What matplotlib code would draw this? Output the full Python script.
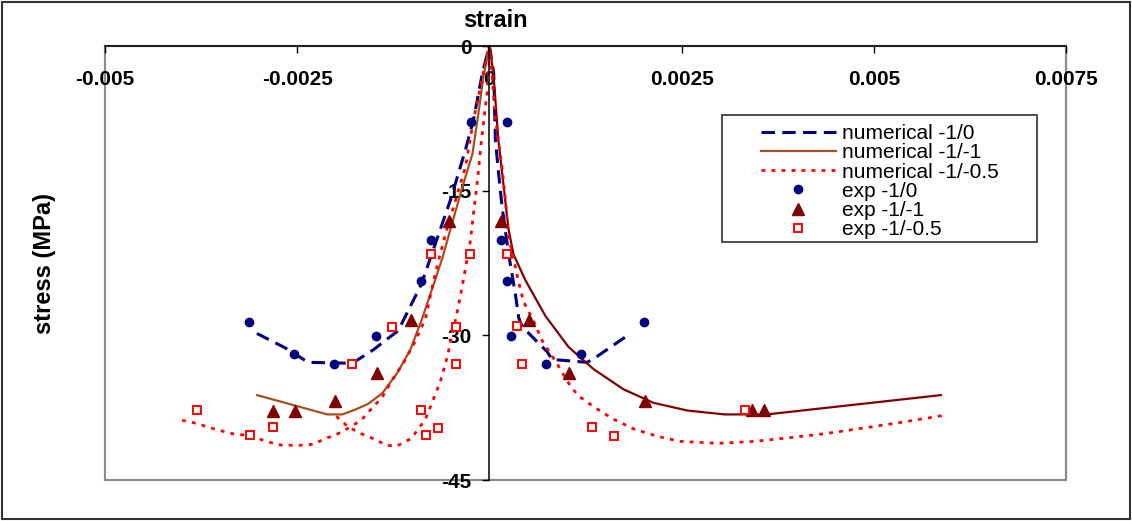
import matplotlib
matplotlib.use("Agg")
import matplotlib.pyplot as plt
from matplotlib.patches import Rectangle
from matplotlib.ticker import FixedLocator, FuncFormatter

plt.rcParams['font.family'] = ['Liberation Sans', 'DejaVu Sans']
plt.rcParams['axes.unicode_minus'] = False

# --- numerical -1/0 (blue dashed), left and right branches
num10_left_x = [-0.003025, -0.002656, -0.002357, -0.001784, -0.00151, -0.001185,
                -0.000885, -0.000508, -0.000313, -0.000208, -0.000091, 0.0]
num10_left_y = [-29.8, -31.3, -32.8, -32.9, -31.5, -29.5, -24.7, -16.0, -10.8, -7.7, -2.8, 0.0]
num10_right_x = [0.0, 0.000056, 0.000078, 0.000121, 0.000165, 0.000251, 0.000339,
                 0.000382, 0.000426, 0.000751, 0.000816, 0.001272, 0.00138, 0.001836]
num10_right_y = [0.0, -2.8, -9.8, -13.3, -16.7, -21.6, -25.8, -28.2, -29.1, -31.7, -32.5,
                 -32.8, -32.3, -29.8]

# --- numerical -1/-1 (brown left, maroon right)
num11_left_x = [-0.003021, -0.002109, -0.001914, -0.001745, -0.001576, -0.001393, -0.001198,
                -0.001029, -0.000872, -0.000742, -0.000612, -0.000482, -0.000365, -0.000221,
                -0.000143, -0.000078, 0.0]
num11_left_y = [-36.2, -38.2, -38.2, -37.7, -37.1, -36.0, -33.9, -31.5, -28.2, -25.1, -22.0,
                -18.3, -15.0, -11.2, -7.0, -3.2, 0.0]
num11_right_x = [0.0, 0.000052, 0.000117, 0.000182, 0.000247, 0.000313, 0.000469, 0.000729,
                 0.001029, 0.001354, 0.001745, 0.002135, 0.002578, 0.00306, 0.003607, 0.005872]
num11_right_y = [0.0, -2.8, -9.8, -14.3, -18.9, -21.6, -24.3, -28.0, -31.2, -33.5, -35.6,
                 -37.0, -37.8, -38.2, -38.2, -36.2]

# --- numerical -1/-0.5 (red dotted): outer left, inner left, right
num105_left_x = [-0.003997, -0.003828, -0.003581, -0.003346, -0.003112, -0.002904, -0.002695,
                 -0.002461, -0.002292, -0.002135, -0.001992, -0.00181, -0.001667, -0.00151,
                 -0.001393, -0.001276, -0.001107, -0.000977, -0.000833, -0.000755, -0.000664,
                 -0.00056, -0.000404, -0.000313, -0.000208, -0.000117, -0.000026, 0.0]
num105_left_y = [-38.8, -39.1, -39.7, -40.2, -40.4, -41.0, -41.4, -41.4, -41.3, -40.7, -40.3,
                 -39.5, -38.8, -37.4, -36.4, -34.8, -32.7, -30.8, -28.3, -25.4, -22.3, -19.2,
                 -15.0, -12.6, -7.7, -4.3, -0.7, 0.0]
num105_inner_x = [-0.001992, -0.001836, -0.001667, -0.001484, -0.001341, -0.001211, -0.001016,
                  -0.000924, -0.000833, -0.000742, -0.000638, -0.000547, -0.000482, -0.00043,
                  -0.000365, -0.000299, -0.000247, -0.000208, -0.000156, -0.000117, -0.000078,
                  -0.000026, -0.000004, 0.0]
num105_inner_y = [-38.4, -39.5, -40.2, -40.8, -41.4, -41.5, -40.7, -39.7, -38.7, -36.9, -34.8,
                  -32.2, -29.8, -28.0, -25.4, -22.5, -20.2, -17.4, -14.0, -10.8, -8.0, -4.6,
                  -1.8, 0.0]
num105_right_x = [0.0, 0.000039, 0.000078, 0.000117, 0.000169, 0.000208, 0.000247, 0.000313,
                  0.000378, 0.000443, 0.000573, 0.00069, 0.000885, 0.001016, 0.001146, 0.001354,
                  0.001615, 0.001875, 0.002201, 0.002487, 0.002969, 0.003438, 0.003919,
                  0.004362, 0.004961, 0.005456, 0.005911]
num105_right_y = [0.0, -3.5, -7.4, -9.8, -12.9, -16.0, -19.7, -22.0, -24.4, -26.5, -28.5, -30.6,
                  -33.0, -34.8, -36.2, -37.4, -38.7, -39.7, -40.5, -41.0, -41.2, -41.0, -40.6,
                  -40.2, -39.5, -38.9, -38.3]

# --- experimental points
exp10_x = [-0.00313, -0.00254, -0.00202, -0.00148, -0.00089, -0.00076, -0.00024,
           0.00023, 0.00015, 0.00023, 0.00028, 0.00074, 0.00119, 0.00201]
exp10_y = [-28.6, -31.9, -33.0, -30.1, -24.4, -20.1, -7.9,
           -7.9, -20.1, -24.4, -30.1, -33.0, -31.9, -28.6]
exp11_x = [-0.00281, -0.00253, -0.00201, -0.00146, -0.00102, -0.00052,
           0.00015, 0.00052, 0.00104, 0.00202, 0.00342, 0.00357]
exp11_y = [-37.8, -37.8, -36.8, -33.9, -28.4, -18.1,
           -18.1, -28.4, -33.9, -36.8, -37.75, -37.75]
exp105_x = [-0.0038, -0.00311, -0.00282, -0.00179, -0.00127, -0.00076, -0.00025, -0.00044,
            -0.00044, -0.00089, -0.00067, -0.00083,
            0.00023, 0.00036, 0.00043, 0.00134, 0.00162, 0.00333]
exp105_y = [-37.7, -40.3, -39.5, -33.0, -29.1, -21.6, -21.6, -29.1, -33.0, -37.7, -39.6, -40.3,
            -21.6, -29.0, -33.0, -39.55, -40.4, -37.75]

x_ticks = [-0.005, -0.0025, 0.0, 0.0025, 0.005, 0.0075]
y_ticks = [-45, -30, -15, 0]

navy = '#000080'
brown = '#A5501E'
maroon = '#800000'
red = '#FF0000'

fig = plt.figure(figsize=(11.32, 5.21), dpi=100)
ax = fig.add_axes([0.09276, 0.07869, 0.84894, 0.83301])
ax.set_xlim(-0.005, 0.0075)
ax.set_ylim(-45, 0)

blue_dash = (0, (4.4, 2.4))
red_dot = (0, (1.4, 2.2))

l1, = ax.plot(num10_left_x, num10_left_y, color=navy, lw=2.2, ls=blue_dash,
              label='numerical -1/0')
ax.plot(num10_right_x, num10_right_y, color=navy, lw=2.2, ls=blue_dash)
l2, = ax.plot(num11_left_x, num11_left_y, color=brown, lw=1.6, label='numerical -1/-1')
ax.plot(num11_right_x, num11_right_y, color=maroon, lw=1.6)
l3, = ax.plot(num105_left_x, num105_left_y, color=red, lw=2.0, ls=red_dot,
              label='numerical -1/-0.5')
ax.plot(num105_inner_x, num105_inner_y, color=red, lw=2.0, ls=red_dot)
ax.plot(num105_right_x, num105_right_y, color=red, lw=2.0, ls=red_dot)

m1, = ax.plot(exp10_x, exp10_y, ls='none', marker='o', ms=6, color=navy, label='exp -1/0')
m2, = ax.plot(exp11_x, exp11_y, ls='none', marker='^', ms=8, color=maroon, label='exp -1/-1')
m3, = ax.plot(exp105_x, exp105_y, ls='none', marker='s', ms=5.5, mfc='white', mec=red,
              mew=1.4, label='exp -1/-0.5')

# axes crossing at the origin, gray plot frame
for side in ['top', 'right']:
    ax.spines[side].set_visible(False)
ax.spines['left'].set_position(('data', 0))
ax.spines['bottom'].set_position(('data', 0))
for side in ['left', 'bottom']:
    ax.spines[side].set_color('black')
    ax.spines[side].set_linewidth(1.1)
ax.add_patch(Rectangle((0, 0), 1, 1, transform=ax.transAxes, fill=False,
                       edgecolor='#8c8c8c', lw=1.6, zorder=0.5, clip_on=False))

fmt = FuncFormatter(lambda v, p: '%g' % v)
ax.xaxis.set_major_locator(FixedLocator(x_ticks))
ax.yaxis.set_major_locator(FixedLocator(y_ticks))
ax.xaxis.set_major_formatter(fmt)
ax.yaxis.set_major_formatter(fmt)
ax.tick_params(axis='x', direction='out', length=5, width=1, pad=12, labelsize=15)
ax.tick_params(axis='y', direction='out', length=5, width=1, pad=8, labelsize=15)
for t in ax.get_xticklabels() + ax.get_yticklabels():
    t.set_fontweight('bold')

fig.text(0.438, 0.96, 'strain', fontsize=17, fontweight='bold', ha='center', va='center')
fig.text(0.039, 0.495, 'stress (MPa)', fontsize=17, fontweight='bold', rotation=90,
         ha='center', va='center')

# legend box drawn separately, entries without frame
ax.add_patch(Rectangle((0.642, 0.548), 0.3278, 0.293, transform=ax.transAxes, fill=True,
                       facecolor='white', edgecolor='#404040', lw=1.3, zorder=4))
leg = ax.legend(handles=[l1, l2, l3, m1, m2, m3], loc='upper left',
                bbox_to_anchor=(0.6826, 0.820), frameon=False, fontsize=15,
                handlelength=3.6, handletextpad=0.3, borderpad=0, borderaxespad=0,
                labelspacing=0.01)
leg.set_zorder(5)

# outer chart border
fig.patches.append(Rectangle((0.002, 0.004), 0.996, 0.992, transform=fig.transFigure,
                             fill=False, edgecolor='#333333', lw=1.5))

fig.savefig('out.png', dpi=100)
